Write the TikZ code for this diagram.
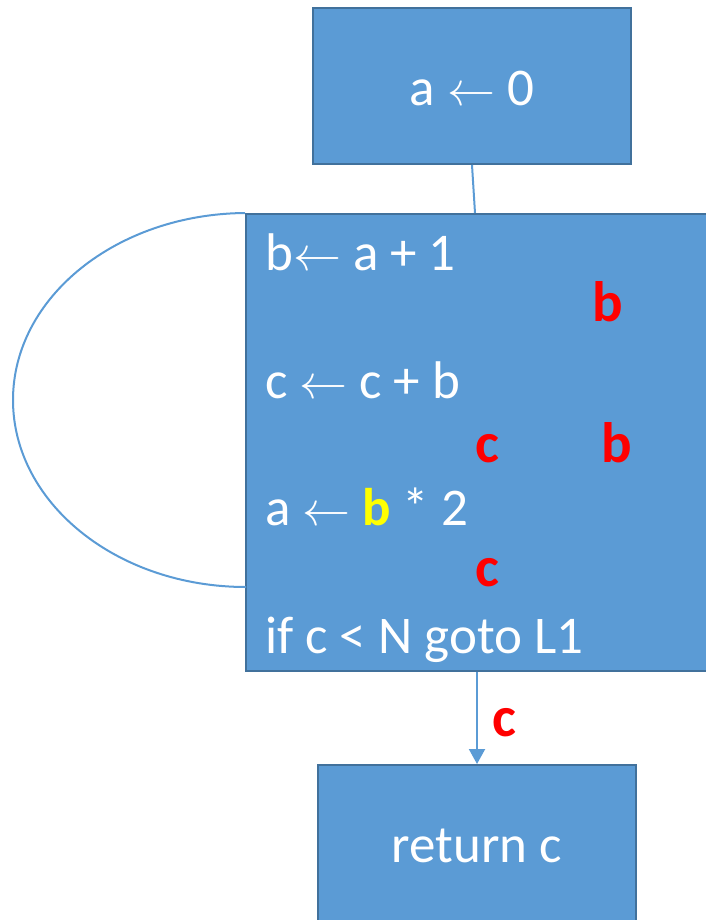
\documentclass[tikz,border=0pt]{standalone}
\usepackage{fontspec}
\setmainfont{Carlito}
\usetikzlibrary{arrows.meta}
\definecolor{boxfill}{HTML}{5B9BD5}
\definecolor{boxedge}{HTML}{41719C}
\definecolor{liveRed}{HTML}{FF0000}
\definecolor{hiYellow}{HTML}{FFFF00}
\newcommand{\bigfont}{\fontsize{53}{63}\selectfont}
\newcommand{\livefont}{\fontsize{57}{68}\selectfont\bfseries}
\newcommand{\assignarrow}{\resizebox{48pt}{!}{$\leftarrow$}}
\begin{document}
\begin{tikzpicture}[x=1pt,y=-1pt,
  block/.style={draw=boxedge, line width=2pt, fill=boxfill, inner sep=0pt},
  code/.style={anchor=base west, inner sep=0pt, text=white, font=\bigfont},
  live/.style={anchor=base west, inner sep=0pt, text=liveRed, font=\livefont},
  flow/.style={draw=boxfill, line width=2pt}]
\useasboundingbox (0,0) rectangle (705,920);

% basic blocks
\node[block, minimum width=318pt, minimum height=156pt] (init) at (472,86) {};
\node[block, minimum width=466pt, minimum height=457pt] (body) at (479,442.5) {};
\node[block, minimum width=318pt, minimum height=160pt] (exit) at (477,845) {};

% block contents
\node[code, anchor=base] (initText) at (472,106) {a \assignarrow{} 0};
\node[code] (lineB) at (265,270) {b\assignarrow{} a + 1};
\node[code] (lineC) at (265,398) {c \assignarrow{} c + b};
\node[code] (lineA) at (265,525) {a \assignarrow{} \textcolor{hiYellow}{\bfseries b} * 2};
\node[code] (lineIf) at (265,653) {if c < N goto L1};
\node[code, anchor=base] (exitText) at (477,862) {return c};

% live variables
\node[live] (liveB1) at (592,321) {b};
\node[live] (liveC1) at (475,462) {c};
\node[live] (liveB2) at (601,462) {b};
\node[live] (liveC2) at (475,586) {c};
\node[live] (liveC3) at (492,736) {c};

% control flow edges
\coordinate (loopEnd) at (246,587);
\draw[flow] (init.south) -- ([xshift=3pt]init.south |- body.north);
\draw[flow] (body.north west) .. controls (117,214) and (13,297) .. (13,400)
  .. controls (13,503) and (117,587) .. (loopEnd);
\draw[flow, -{Triangle[width=16pt,length=15pt]}] (body.south -| exit.north) -- (exit.north);
\end{tikzpicture}
\end{document}
